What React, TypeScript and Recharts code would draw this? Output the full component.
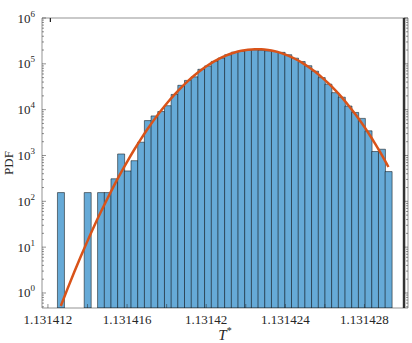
import { ComposedChart, Bar, Line, XAxis, YAxis, ReferenceLine } from 'recharts';

// histogram bin centres (T*)
const binCenters = [
  1.13141265, 1.131412988, 1.131413326, 1.131413664, 1.131414002, 1.13141434, 1.131414678, 1.131415016,
  1.131415354, 1.131415692, 1.13141603, 1.131416368, 1.131416706, 1.131417044, 1.131417382, 1.13141772,
  1.131418058, 1.131418396, 1.131418734, 1.131419072, 1.13141941, 1.131419748, 1.131420086, 1.131420424,
  1.131420762, 1.1314211, 1.131421438, 1.131421776, 1.131422114, 1.131422452, 1.13142279, 1.131423128,
  1.131423466, 1.131423804, 1.131424142, 1.13142448, 1.131424818, 1.131425156, 1.131425494, 1.131425832,
  1.13142617, 1.131426508, 1.131426846, 1.131427184, 1.131427522, 1.13142786, 1.131428198, 1.131428536,
  1.131428874, 1.131429212,
];

// histogram PDF (null = empty bin)
const pdfValues = [
  155, null, null, null, 155, null, 155, 155, 310, 1080, 460, 770, 1950, 5770, 7300, 9100,
  12200, 21500, 34000, 43500, 52000, 76000, 90000, 113000, 134000, 158000, 180000, 187000, 197000, 202000, 197000, 192000,
  187000, 178000, 158000, 133000, 112000, 91000, 69000, 50000, 36000, 23500, 18700, 12000, 8700, 6450, 3450, 1220,
  1370, 445,
];

// fitted normal PDF at the bin centres
const fitValues = [
  0.52, 1.23, 2.83, 6.3, 13.7, 29, 59, 117, 226, 423, 766, 1350, 2300, 3820, 6140, 9570,
  14500, 21300, 30400, 42100, 56500, 73600, 93200, 114500, 136500, 157800, 177000, 192300, 203200, 208400, 207500, 200500,
  187900, 171000, 150700, 129100, 107400, 86500, 67800, 51400, 37900, 27100, 18800, 12500, 8100, 5100, 3100, 1820,
  1030, 560,
];

const xTicks = [
  1.131412, 1.131414, 1.131416, 1.131418, 1.13142, 1.131422, 1.131424, 1.131426, 1.131428, 1.13143,
];
const xLabelTicks = [1.131412, 1.131416, 1.13142, 1.131424, 1.131428];
const yMajorTicks = [1, 10, 100, 1000, 10000, 100000, 1000000];
const yMinorTicks = [
  0.5, 0.6, 0.7, 0.8, 0.9,
  2, 3, 4, 5, 6, 7, 8, 9,
  20, 30, 40, 50, 60, 70, 80, 90,
  200, 300, 400, 500, 600, 700, 800, 900,
  2000, 3000, 4000, 5000, 6000, 7000, 8000, 9000,
  20000, 30000, 40000, 50000, 60000, 70000, 80000, 90000,
  200000, 300000, 400000, 500000, 600000, 700000, 800000, 900000,
];
const limitValue = 1.13143;

const X_DOMAIN = [1.1314117, 1.1314302];
const Y_DOMAIN = [0.47, 1000000];

const FONT = "'Liberation Serif', 'DejaVu Serif', serif";
const AXIS = '#262626';
const BAR_FILL = '#66AAD7';
const FIT = '#D95319';

const data = binCenters.map((x, i) => ({ x, pdf: pdfValues[i], fit: fitValues[i] }));
const yTicks = [...yMinorTicks, ...yMajorTicks];

const isMajor = (v: number) => yMajorTicks.includes(v);
const fmtX = (v: number) => String(parseFloat(v.toFixed(6)));

function LeftTick({ x, y, payload }: any) {
  const v = payload.value;
  const major = isMajor(v);
  return (
    <g>
      <line x1={x} x2={x + (major ? 4 : 2)} y1={y} y2={y} stroke={AXIS} strokeWidth={0.5} />
      {major && (
        <text x={x - 7} y={y + 4.5} textAnchor="end" fontSize={13} fill={AXIS} fontFamily={FONT}>
          10
          <tspan dy={-6} fontSize={9}>
            {Math.round(Math.log10(v))}
          </tspan>
        </text>
      )}
    </g>
  );
}

function RightTick({ x, y, payload }: any) {
  const major = isMajor(payload.value);
  return <line x1={x} x2={x - (major ? 4 : 2)} y1={y} y2={y} stroke={AXIS} strokeWidth={0.5} />;
}

function BottomTick({ x, y, payload }: any) {
  const v = payload.value;
  const labeled = xLabelTicks.some((t) => Math.abs(t - v) < 1e-9);
  return (
    <g>
      <line x1={x} x2={x} y1={y} y2={y - 4} stroke={AXIS} strokeWidth={0.5} />
      {labeled && (
        <text x={x} y={y + 16} textAnchor="middle" fontSize={13} fill={AXIS} fontFamily={FONT}>
          {fmtX(v)}
        </text>
      )}
    </g>
  );
}

function TopTick({ x, y }: any) {
  return <line x1={x} x2={x} y1={y} y2={y + 4} stroke={AXIS} strokeWidth={0.5} />;
}

function XLabel({ viewBox }: any) {
  const cx = viewBox.x + viewBox.width / 2;
  return (
    <text x={cx} y={viewBox.y + 32} textAnchor="middle" fontSize={15} fill={AXIS} fontFamily={FONT}>
      <tspan fontStyle="italic">T</tspan>
      <tspan dy={-6} fontSize={10}>*</tspan>
    </text>
  );
}

function YLabel({ viewBox }: any) {
  const cx = viewBox.x + 8;
  const cy = viewBox.y + viewBox.height / 2;
  return (
    <text
      x={cx}
      y={cy}
      transform={`rotate(-90, ${cx}, ${cy})`}
      textAnchor="middle"
      dominantBaseline="central"
      fontSize={13}
      fill={AXIS}
      fontFamily={FONT}
    >
      PDF
    </text>
  );
}

export default function App() {
  return (
    <div style={{ position: 'absolute', left: 0, top: 0, background: '#fff' }}>
      <ComposedChart
        width={412}
        height={343}
        data={data}
        margin={{ top: 14, right: 0, bottom: 5, left: 0 }}
        barCategoryGap={0}
        barGap={0}
      >
        <XAxis
          xAxisId="b"
          dataKey="x"
          type="number"
          domain={X_DOMAIN}
          allowDataOverflow
          ticks={xTicks}
          interval={0}
          tick={<BottomTick />}
          tickSize={0}
          tickMargin={0}
          tickLine={false}
          axisLine={{ stroke: AXIS, strokeWidth: 0.5 }}
          height={30}
          label={<XLabel />}
        />
        <XAxis
          xAxisId="t"
          orientation="top"
          type="number"
          domain={X_DOMAIN}
          allowDataOverflow
          ticks={xTicks}
          interval={0}
          tick={<TopTick />}
          tickSize={0}
          tickMargin={0}
          tickLine={false}
          axisLine={{ stroke: AXIS, strokeWidth: 0.5 }}
          height={4}
        />
        <YAxis
          yAxisId="l"
          type="number"
          scale="log"
          domain={Y_DOMAIN}
          allowDataOverflow
          ticks={yTicks}
          interval={0}
          tick={<LeftTick />}
          tickSize={0}
          tickMargin={0}
          tickLine={false}
          axisLine={{ stroke: AXIS, strokeWidth: 0.5 }}
          width={42}
          label={<YLabel />}
        />
        <YAxis
          yAxisId="r"
          orientation="right"
          type="number"
          scale="log"
          domain={Y_DOMAIN}
          allowDataOverflow
          ticks={yTicks}
          interval={0}
          tick={<RightTick />}
          tickSize={0}
          tickMargin={0}
          tickLine={false}
          axisLine={{ stroke: AXIS, strokeWidth: 0.5 }}
          width={4}
        />
        <Bar
          xAxisId="b"
          yAxisId="l"
          dataKey="pdf"
          fill={BAR_FILL}
          stroke="#000"
          strokeWidth={0.5}
          isAnimationActive={false}
        />
        <Line
          xAxisId="b"
          yAxisId="l"
          dataKey="fit"
          type="monotone"
          stroke={FIT}
          strokeWidth={2.5}
          dot={false}
          activeDot={false}
          isAnimationActive={false}
        />
        <ReferenceLine xAxisId="b" yAxisId="l" x={limitValue} stroke="#333" strokeWidth={2.5} />
      </ComposedChart>
    </div>
  );
}
